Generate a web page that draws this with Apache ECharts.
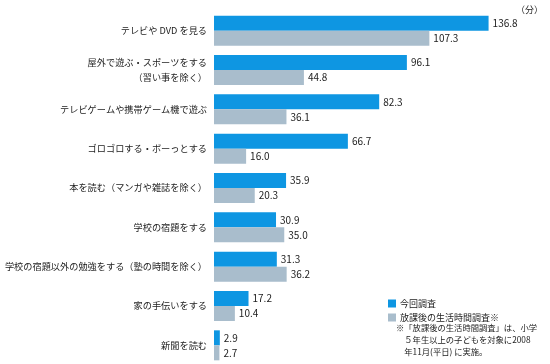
<!DOCTYPE html>
<html><head><meta charset="utf-8">
<script src="https://cdn.jsdelivr.net/npm/echarts@6/dist/echarts.min.js"></script>
<style>html,body{margin:0;padding:0;background:#fff}#c{width:550px;height:364px}</style>
</head><body><div id="c"></div>
<script>
const categories = ['テレビや DVD を見る','屋外で遊ぶ・スポーツをする\n（習い事を除く）','テレビゲームや携帯ゲーム機で遊ぶ','ゴロゴロする・ボーっとする','本を読む（マンガや雑誌を除く）','学校の宿題をする','学校の宿題以外の勉強をする（塾の時間を除く）','家の手伝いをする','新聞を読む'];
const current = [136.8, 96.1, 82.3, 66.7, 35.9, 30.9, 31.3, 17.2, 2.9];
const previous = [107.3, 44.8, 36.1, 16.0, 20.3, 35.0, 36.2, 10.4, 2.7];
const seriesNames = ['今回調査','放課後の生活時間調査※'];
const FONT = '"Noto Sans CJK JP", sans-serif';
const chart = echarts.init(document.getElementById('c'));
const lbl = {show:true, position:'right', distance:4, color:'#222', fontSize:10, fontFamily:FONT, formatter:p=>p.value.toFixed(1)};
chart.setOption({
  animation:false,
  grid:{left:214, right:55, top:11, bottom:-1, containLabel:false, outerBoundsMode:'none'},
  xAxis:{type:'value', min:0, max:140, show:false},
  yAxis:{type:'category', data:categories, inverse:true,
    axisLine:{show:false}, axisTick:{show:false},
    axisLabel:{margin:7, color:'#222', fontSize:9.2, fontFamily:FONT, lineHeight:15, align:'right'}},
  legend:{orient:'vertical', left:383, top:294, itemWidth:8, itemHeight:8, itemGap:5, icon:'rect',
    textStyle:{fontSize:9, color:'#222', fontFamily:FONT, padding:[0,0,0,-1]}, data:seriesNames},
  series:[
    {name:seriesNames[0], type:'bar', data:current, barWidth:15, barGap:'0%', barCategoryGap:'24%',
     itemStyle:{color:'#0e96e2'}, label:lbl},
    {name:seriesNames[1], type:'bar', data:previous, barWidth:15,
     itemStyle:{color:'#a9bdcc'}, label:lbl}
  ],
  graphic:[
    {type:'text', left:516, top:5, style:{text:'（分）', fontSize:9, fill:'#222', fontFamily:FONT}},
    {type:'text', left:396, top:322, style:{text:'※「放課後の生活時間調査」は、小学\n　５年生以上の子どもを対象に2008\n　年11月(平日) に実施。', fontSize:8.3, lineHeight:12, fill:'#222', fontFamily:FONT}}
  ]
});
</script></body></html>
